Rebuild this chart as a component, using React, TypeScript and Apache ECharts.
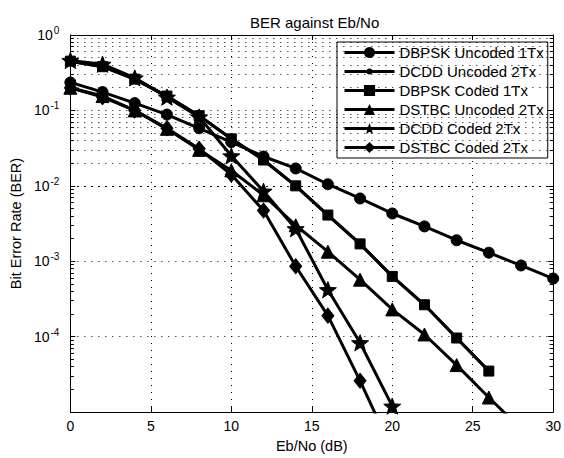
import React, { useEffect, useRef } from "react";
import * as echarts from "echarts";

const ebNo = [0, 2, 4, 6, 8, 10, 12, 14, 16, 18, 20, 22, 24, 26, 28, 30];
const dbpskUncoded1Tx = [0.235, 0.175, 0.125, 0.088, 0.058, 0.038, 0.0245, 0.017, 0.0105, 0.0068, 0.0043, 0.0029, 0.0019, 0.0013, 0.00088, 0.00059];
const dcddUncoded2Tx = [0.45, 0.38, 0.26, 0.155, 0.085, 0.042, 0.022, 0.01, 0.0041, 0.0017, 0.00063, 0.000265, 0.000096, 0.000035];
const dbpskCoded1Tx = [0.45, 0.38, 0.26, 0.155, 0.085, 0.042, 0.022, 0.01, 0.0041, 0.0017, 0.00063, 0.000265, 0.000096, 0.000035];
const dstbcUncoded2Tx = [0.2, 0.155, 0.1, 0.057, 0.03, 0.016, 0.0075, 0.003, 0.00134, 0.00057, 0.00023, 0.000107, 0.000042, 0.0000156, 0.000006];
const dcddCoded2Tx = [0.46, 0.41, 0.27, 0.15, 0.082, 0.025, 0.0085, 0.0027, 0.00042, 0.000083, 0.000012, 0.0000017];
const dstbcCoded2Tx = [0.2, 0.15, 0.1, 0.058, 0.031, 0.0141, 0.0047, 0.00086, 0.00019, 0.000026, 0.0000031];

const seriesNames = [
  "DBPSK Uncoded 1Tx",
  "DCDD Uncoded 2Tx",
  "DBPSK Coded 1Tx",
  "DSTBC Uncoded 2Tx",
  "DCDD Coded 2Tx",
  "DSTBC Coded 2Tx",
];
const seriesValues = [dbpskUncoded1Tx, dcddUncoded2Tx, dbpskCoded1Tx, dstbcUncoded2Tx, dcddCoded2Tx, dstbcCoded2Tx];

const xTicks = { min: 0, max: 30, interval: 5 };
const yRange = { min: 1e-5, max: 1 };
const minorFactors = [2, 3, 4, 5, 6, 7, 8, 9];
const decadeExps = [-5, -4, -3, -2, -1];

function starPath(): string {
  const pts: string[] = [];
  for (let k = 0; k < 10; k++) {
    const r = k % 2 === 0 ? 1 : 0.42;
    const a = -Math.PI / 2 + (k * Math.PI) / 5;
    pts.push(`${(r * Math.cos(a)).toFixed(4)} ${(r * Math.sin(a)).toFixed(4)}`);
  }
  return "path://M" + pts.join(" L") + " Z";
}

// legend icon: thick line with a small dot, in a 50x14 box
const dotLineIcon =
  "path://M0 0 L0.01 0 L0 0.01 Z M50 14 L49.99 14 L50 13.99 Z " +
  "M0 5.5 L50 5.5 L50 8.5 L0 8.5 Z " +
  "M28 7 A3 3 0 1 1 22 7 A3 3 0 1 1 28 7 Z";

const FONT = "Liberation Sans, Arial, Helvetica, sans-serif";
const DOTTED = { color: "#000", width: 1, type: [1, 6] as number[] };

export default function App() {
  const ref = useRef<HTMLDivElement>(null);
  useEffect(() => {
    if (!ref.current) return;
    const chart = echarts.init(ref.current, undefined, { renderer: "svg" });

    const minorVals: number[] = [];
    decadeExps.forEach((e) => minorFactors.forEach((f) => minorVals.push(f * Math.pow(10, e))));

    const markData: any[] = [];
    minorVals.forEach((v) => markData.push({ yAxis: v, lineStyle: DOTTED }));
    minorVals.forEach((v) => {
      markData.push([
        { coord: [0, v], lineStyle: { color: "#000", width: 1, type: "solid" } },
        { coord: [0.22, v] },
      ]);
      markData.push([
        { coord: [29.78, v], lineStyle: { color: "#000", width: 1, type: "solid" } },
        { coord: [30, v] },
      ]);
    });

    const symbols: any[] = ["circle", "circle", "rect", "triangle", starPath(), "diamond"];
    const sizes: any[] = [11, 5, 10, 13, 17, [12, 15]];

    const series: any[] = seriesNames.map((name, i) => ({
      name,
      type: "line",
      data: seriesValues[i].map((v, j) => [ebNo[j], v]),
      symbol: symbols[i],
      symbolSize: sizes[i],
      symbolKeepAspect: true,
      showAllSymbol: true,
      clip: true,
      lineStyle: { color: "#000", width: 3 },
      itemStyle: { color: "#000", borderColor: "#000" },
      emphasis: { disabled: true },
      z: 3,
    }));
    series.push({
      name: "grid",
      type: "line",
      data: [],
      silent: true,
      z: 1,
      markLine: {
        silent: true,
        symbol: "none",
        animation: false,
        label: { show: false },
        emphasis: { disabled: true },
        data: markData,
      },
    });

    const legendData: any[] = seriesNames.map((n, i) =>
      i === 1 ? { name: n, icon: dotLineIcon, itemStyle: { color: "#000" } } : { name: n }
    );

    chart.setOption({
      animation: false,
      backgroundColor: "#fff",
      textStyle: { fontFamily: FONT, color: "#000" },
      title: {
        text: "BER against Eb/No",
        left: 245,
        top: 10,
        textStyle: { fontFamily: FONT, fontSize: 15, fontWeight: "normal", color: "#000" },
      },
      legend: {
        data: legendData,
        orient: "vertical",
        left: 337,
        top: 42,
        itemWidth: 50,
        itemHeight: 14,
        itemGap: 4,
        padding: [3, 4, 3, 6],
        borderColor: "#000",
        borderWidth: 1,
        backgroundColor: "#fff",
        selectedMode: false,
        lineStyle: { width: 3, color: "#000" },
        textStyle: { fontFamily: FONT, fontSize: 15, color: "#000" },
      },
      grid: { left: 69, right: 8, top: 35, bottom: 40, containLabel: false },
      xAxis: [
        {
          type: "value",
          min: xTicks.min,
          max: xTicks.max,
          interval: xTicks.interval,
          name: "Eb/No (dB)",
          nameLocation: "middle",
          nameGap: 23,
          nameTextStyle: { fontFamily: FONT, fontSize: 14.5, color: "#000" },
          axisLine: { show: true, onZero: false, lineStyle: { color: "#000", width: 1 } },
          axisTick: { show: true, inside: true, length: 5, lineStyle: { color: "#000" } },
          axisLabel: { margin: 7, fontFamily: FONT, fontSize: 14, color: "#000" },
          splitLine: { show: true, lineStyle: DOTTED },
        },
        {
          type: "value",
          position: "top",
          min: xTicks.min,
          max: xTicks.max,
          interval: xTicks.interval,
          axisLine: { show: true, onZero: false, lineStyle: { color: "#000", width: 1 } },
          axisTick: { show: true, inside: true, length: 5, lineStyle: { color: "#000" } },
          axisLabel: { show: false },
          splitLine: { show: false },
        },
      ],
      yAxis: [
        {
          type: "log",
          logBase: 10,
          min: yRange.min,
          max: yRange.max,
          name: "Bit Error Rate (BER)",
          nameLocation: "middle",
          nameRotate: 90,
          nameGap: 37,
          nameTextStyle: { fontFamily: FONT, fontSize: 14.5, color: "#000" },
          axisLine: { show: true, onZero: false, lineStyle: { color: "#000", width: 1 } },
          axisTick: { show: true, inside: true, length: 5, lineStyle: { color: "#000" } },
          axisLabel: {
            margin: 11,
            formatter: (v: number) => {
              const e = Math.round(Math.log10(v));
              if (e < -4) return "";
              return `{b|10}{s|${e}}`;
            },
            rich: {
              b: { fontFamily: FONT, fontSize: 14, color: "#000" },
              s: { fontFamily: FONT, fontSize: 10, color: "#000", padding: [0, 0, 9, 1] },
            },
          },
          splitLine: { show: true, lineStyle: DOTTED },
        },
        {
          type: "log",
          logBase: 10,
          position: "right",
          min: yRange.min,
          max: yRange.max,
          axisLine: { show: true, onZero: false, lineStyle: { color: "#000", width: 1 } },
          axisTick: { show: true, inside: true, length: 5, lineStyle: { color: "#000" } },
          axisLabel: { show: false },
          splitLine: { show: false },
        },
      ],
      series,
    });
    return () => chart.dispose();
  }, []);
  return (
    <div
      ref={ref}
      style={{ position: "fixed", left: 0, top: 0, width: 564, height: 458, background: "#fff" }}
    />
  );
}
